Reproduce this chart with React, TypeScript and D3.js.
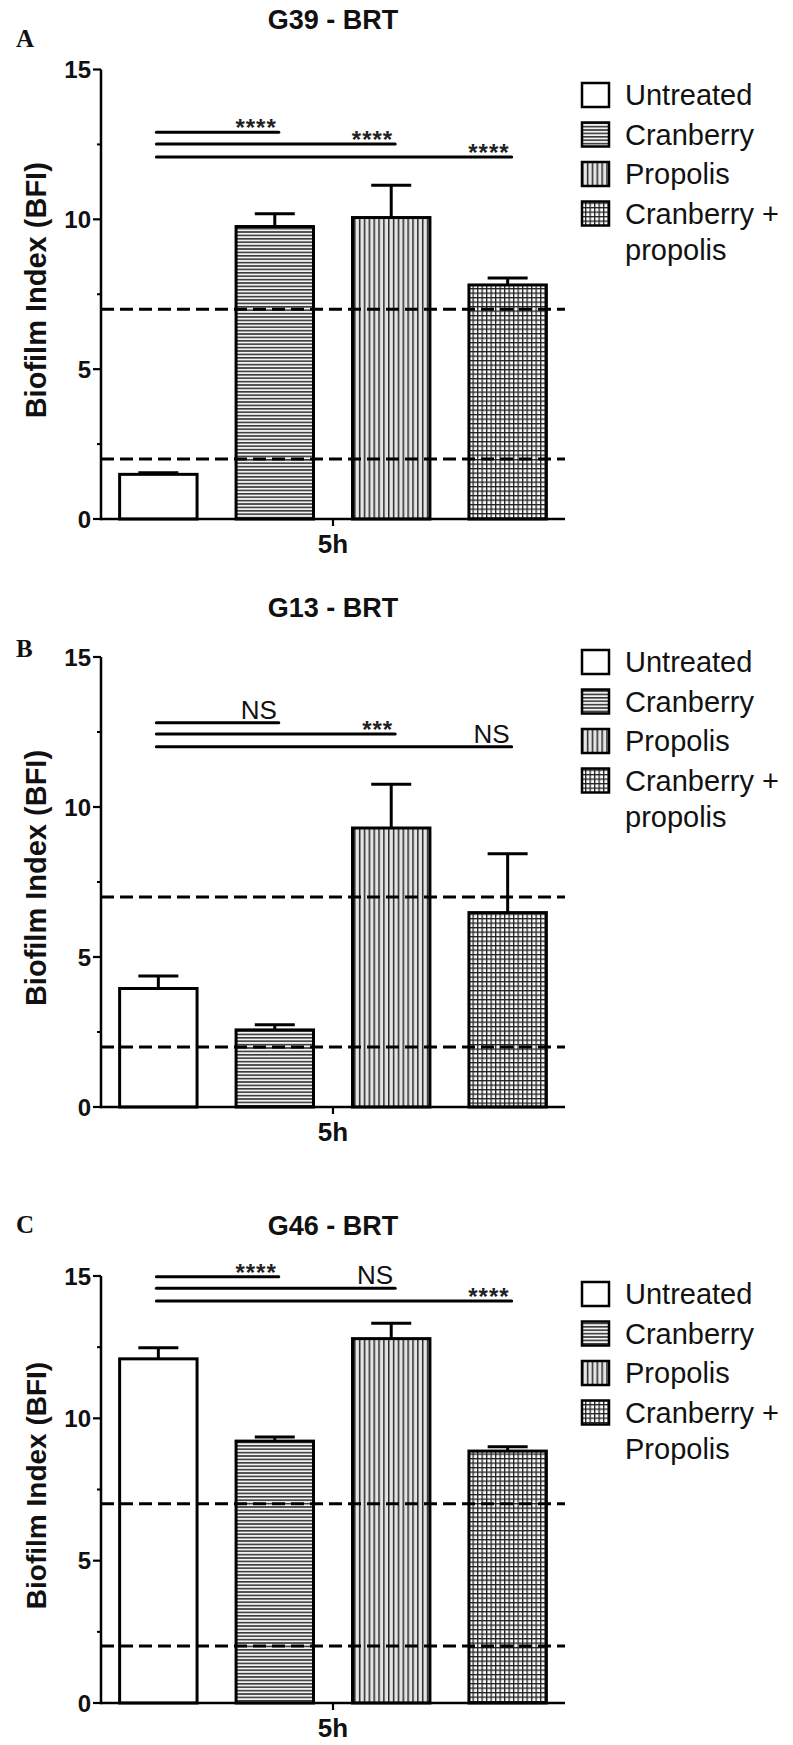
import React from 'react';
import * as d3 from 'd3';

// ---------- data ----------
const categories = ['Untreated', 'Cranberry', 'Propolis', 'Cranberry + propolis'];
const patternIds = ['pat-none', 'pat-hlines', 'pat-vlines', 'pat-grid'];

const panelLetters = ['A', 'B', 'C'];
const panelTitles = ['G39 - BRT', 'G13 - BRT', 'G46 - BRT'];

const meansA = [1.49, 9.76, 10.06, 7.81];
const errorsA = [0.05, 0.43, 1.08, 0.23];
const meansB = [3.95, 2.57, 9.3, 6.48];
const errorsB = [0.42, 0.17, 1.46, 1.96];
const meansC = [12.09, 9.2, 12.8, 8.85];
const errorsC = [0.39, 0.14, 0.54, 0.15];

const sigLabelsA = ['****', '****', '****'];
const sigLabelsB = ['NS', '***', 'NS'];
const sigLabelsC = ['****', 'NS', '****'];
const sigLevelsA = [12.91, 12.51, 12.08];
const sigLevelsB = [12.81, 12.43, 12.01];
const sigLevelsC = [14.97, 14.57, 14.12];

const legendLabelsAB = ['Untreated', 'Cranberry', 'Propolis', 'Cranberry +', 'propolis'];
const legendLabelsC = ['Untreated', 'Cranberry', 'Propolis', 'Cranberry +', 'Propolis'];

const thresholds = [2, 7];
const yMajorTicks = [0, 5, 10, 15];
const yMinorTicks = [2.5, 7.5, 12.5];
const yDomain = [0, 15];
const xLabel = '5h';
const yLabel = 'Biofilm Index (BFI)';

// ---------- layout ----------
const SANS = '"Liberation Sans", Arial, Helvetica, sans-serif';
const SERIF = '"Liberation Serif", "Times New Roman", serif';
const AXIS_X0 = 101;
const AXIS_X1 = 565;

const panels = [
  { letter: panelLetters[0], title: panelTitles[0], means: meansA, errors: errorsA, sigLabels: sigLabelsA, sigLevels: sigLevelsA, legend: legendLabelsAB,
    titleY: 29, letterY: 47, yTop: 69.5, yBottom: 519, legendY: 95, yLabelSize: 29 },
  { letter: panelLetters[1], title: panelTitles[1], means: meansB, errors: errorsB, sigLabels: sigLabelsB, sigLevels: sigLevelsB, legend: legendLabelsAB,
    titleY: 617, letterY: 657, yTop: 657, yBottom: 1107, legendY: 662, yLabelSize: 29 },
  { letter: panelLetters[2], title: panelTitles[2], means: meansC, errors: errorsC, sigLabels: sigLabelsC, sigLevels: sigLevelsC, legend: legendLabelsC,
    titleY: 1235, letterY: 1233, yTop: 1276, yBottom: 1703, legendY: 1294, yLabelSize: 28 },
];

function Patterns() {
  return (
    <defs>
      <pattern id="pat-none" patternUnits="userSpaceOnUse" width={4} height={4}>
        <rect width={4} height={4} fill="#fff" />
      </pattern>
      <pattern id="pat-hlines" patternUnits="userSpaceOnUse" width={6} height={3.4}>
        <rect width={6} height={3.4} fill="#f2f2f2" />
        <rect y={0} width={6} height={1.6} fill="#3a3a3a" />
      </pattern>
      <pattern id="pat-vlines" patternUnits="userSpaceOnUse" width={4.85} height={6}>
        <rect width={4.85} height={6} fill="#e4e4e4" />
        <rect x={0} width={1.5} height={6} fill="#2a2a2a" />
      </pattern>
      <pattern id="pat-grid" patternUnits="userSpaceOnUse" width={4.5} height={4.5}>
        <rect width={4.5} height={4.5} fill="#fafafa" />
        <rect x={0} width={1.3} height={4.5} fill="#222" />
        <rect y={0} width={4.5} height={1.3} fill="#222" />
      </pattern>
    </defs>
  );
}

function Panel({ cfg }: { cfg: any }) {
  const x = d3.scaleBand<string>().domain(categories).range([AXIS_X0, AXIS_X1]).paddingInner(0.335).paddingOuter(0.16);
  const y = d3.scaleLinear().domain(yDomain).range([cfg.yBottom, cfg.yTop]);
  const bw = x.bandwidth();
  const cx = (c: string) => (x(c) as number) + bw / 2;
  const midX = (AXIS_X0 + AXIS_X1) / 2;
  const capHalf = 20;

  const legendX = 582;
  const legendStep = 39.5;

  return (
    <g>
      <text x={16} y={cfg.letterY} fontFamily={SERIF} fontWeight="bold" fontSize={25} fill="#111">{cfg.letter}</text>
      <text x={midX} y={cfg.titleY} textAnchor="middle" fontFamily={SANS} fontWeight="bold" fontSize={27} fill="#111">{cfg.title}</text>

      {categories.map((c, i) => (
        <rect key={c} x={x(c)} y={y(cfg.means[i])} width={bw} height={y(0) - y(cfg.means[i])}
          fill={`url(#${patternIds[i]})`} stroke="#000" strokeWidth={3} />
      ))}

      {thresholds.map((t) => (
        <line key={t} x1={AXIS_X0} x2={AXIS_X1} y1={y(t)} y2={y(t)} stroke="#000" strokeWidth={3} strokeDasharray="13,6" />
      ))}

      {categories.map((c, i) => {
        const top = y(cfg.means[i] + cfg.errors[i]);
        return (
          <g key={'e' + c} stroke="#000" strokeWidth={3}>
            <line x1={cx(c)} x2={cx(c)} y1={y(cfg.means[i])} y2={top} />
            <line x1={cx(c) - capHalf} x2={cx(c) + capHalf} y1={top} y2={top} />
          </g>
        );
      })}

      <line x1={AXIS_X0} x2={AXIS_X0} y1={y(0) + 1.2} y2={y(15)} stroke="#000" strokeWidth={2.5} />
      <line x1={AXIS_X0} x2={AXIS_X1} y1={y(0)} y2={y(0)} stroke="#000" strokeWidth={2.5} />
      {yMajorTicks.map((t) => (
        <g key={'t' + t}>
          <line x1={AXIS_X0 - 8} x2={AXIS_X0} y1={y(t)} y2={y(t)} stroke="#000" strokeWidth={2.2} />
          <text x={AXIS_X0 - 10} y={y(t)} dy="0.36em" textAnchor="end" fontFamily={SANS} fontWeight="bold" fontSize={24} fill="#111">{t}</text>
        </g>
      ))}
      {yMinorTicks.map((t) => (
        <line key={'m' + t} x1={AXIS_X0 - 4} x2={AXIS_X0} y1={y(t)} y2={y(t)} stroke="#000" strokeWidth={2} />
      ))}
      <line x1={midX} x2={midX} y1={y(0)} y2={y(0) + 7} stroke="#000" strokeWidth={2.2} />
      <text x={midX} y={y(0) + 34} textAnchor="middle" fontFamily={SANS} fontWeight="bold" fontSize={26} fill="#111">{xLabel}</text>
      <text transform={`translate(46,${(y(0) + y(15)) / 2 - 4}) rotate(-90)`} textAnchor="middle" fontFamily={SANS} fontWeight="bold" fontSize={cfg.yLabelSize} fill="#111">{yLabel}</text>

      {cfg.sigLabels.map((lab: string, j: number) => {
        const ly = y(cfg.sigLevels[j]);
        const x1 = cx(categories[0]) - 2;
        const x2 = cx(categories[j + 1]) + 4;
        const isStars = lab.startsWith('*');
        return (
          <g key={'s' + j}>
            <line x1={x1} x2={x2} y1={ly} y2={ly} stroke="#000" strokeWidth={3} strokeLinecap="round" />
            {isStars ? (
              <text x={x2 - 2} y={ly + 4} textAnchor="end" fontFamily={SANS} fontWeight="bold" fontSize={24} letterSpacing={1} fill="#222">{lab}</text>
            ) : (
              <text x={x2 - 2} y={ly - 4} textAnchor="end" fontFamily={SANS} fontSize={26} fill="#111">{lab}</text>
            )}
          </g>
        );
      })}

      {categories.map((c, i) => {
        const cy = cfg.legendY + i * legendStep;
        return (
          <g key={'l' + c}>
            <rect x={legendX} y={cy - 12} width={27} height={24} fill={`url(#${patternIds[i]})`} stroke="#000" strokeWidth={2.5} />
            <text x={legendX + 43} y={cy + 10} fontFamily={SANS} fontSize={29} fill="#111">{cfg.legend[i]}</text>
          </g>
        );
      })}
      <text x={legendX + 43} y={cfg.legendY + 3 * legendStep + 10 + 36} fontFamily={SANS} fontSize={29} fill="#111">{cfg.legend[4]}</text>
    </g>
  );
}

export default function App() {
  return (
    <svg width={793} height={1745} viewBox="0 0 793 1745" style={{ position: 'absolute', left: 0, top: 0, background: '#fff' }}>
      <Patterns />
      <rect width={793} height={1745} fill="#fff" />
      {panels.map((p) => (
        <Panel key={p.letter} cfg={p} />
      ))}
    </svg>
  );
}
